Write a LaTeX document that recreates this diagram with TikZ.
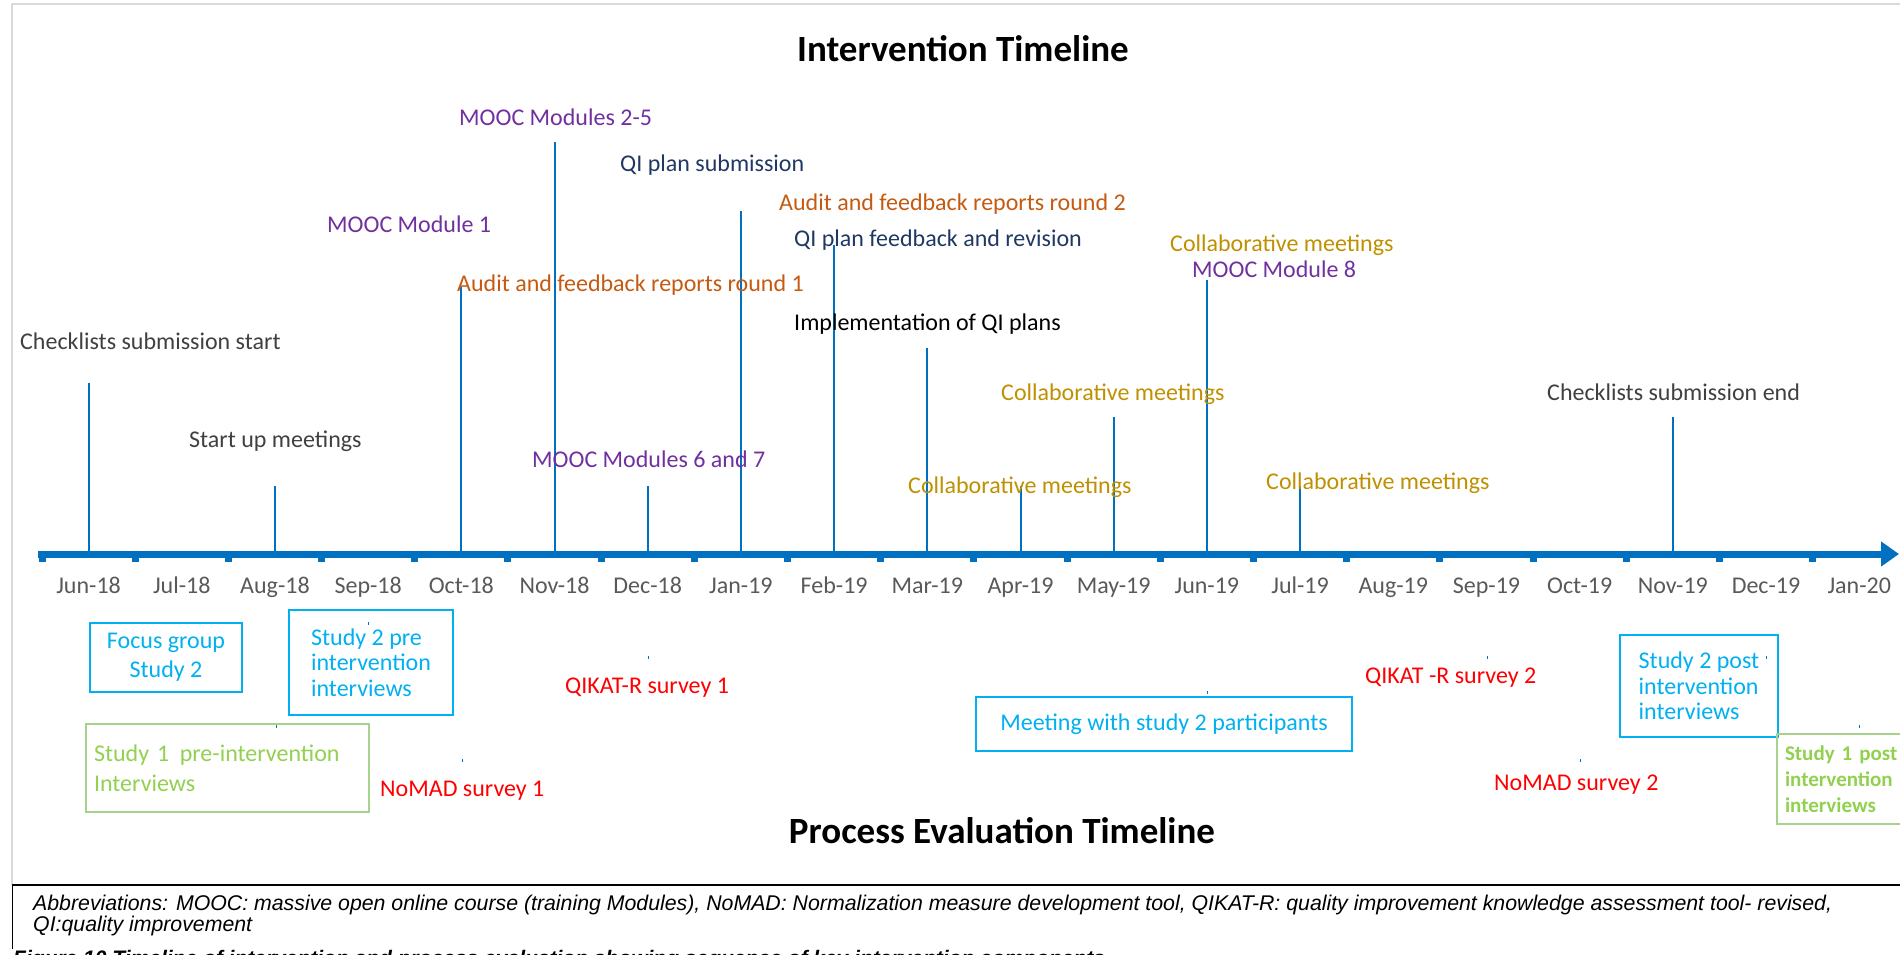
\documentclass[tikz,border=0pt]{standalone}
\usepackage{fontspec}
\setmainfont{Carlito}
\newfontfamily\arialfont{Liberation Sans}
\usetikzlibrary{arrows.meta}
\hyphenpenalty=10000
\exhyphenpenalty=10000

\definecolor{axisblue}{HTML}{0070C0}
\definecolor{moocpurple}{HTML}{7030A0}
\definecolor{qinavy}{HTML}{203864}
\definecolor{auditorange}{HTML}{C55A11}
\definecolor{collabgold}{HTML}{BF9000}
\definecolor{greytext}{HTML}{404040}
\definecolor{monthgrey}{HTML}{595959}
\definecolor{studycyan}{HTML}{00B0F0}
\definecolor{studygreen}{HTML}{92D050}
\definecolor{greenframe}{HTML}{A9D18E}
\definecolor{framegrey}{HTML}{D9D9D9}
\definecolor{eventred}{HTML}{FF0000}

\newcommand\lblfont{\fontsize{24}{29}\selectfont}

\tikzset{
  evline/.style={draw=axisblue, line width=2pt},
  evmark/.style={draw=axisblue, line width=1pt},
  lbl/.style={anchor=base west, inner sep=0pt, font=\lblfont},
  monthlbl/.style={anchor=base, inner sep=0pt, font=\lblfont, text=monthgrey},
  titlelbl/.style={anchor=base, inner sep=0pt, font=\bfseries\fontsize{37}{44}\selectfont},
  cyanbox/.style={draw=studycyan, line width=2pt, text=studycyan, inner ysep=0pt},
  greenbox/.style={draw=greenframe, line width=2pt, text=studygreen, inner ysep=0pt},
  notefont/.style={anchor=base west, inner sep=0pt, font=\arialfont\itshape\fontsize{21.3}{23}\selectfont},
}

\begin{document}
\begin{tikzpicture}[x=1pt, y=-1pt]
\useasboundingbox (0,0) rectangle (1900,954);
\clip (0,0) rectangle (1900,954);

% outer frame and caption box
\draw[framegrey, line width=2.5pt] (12,885) -- (12,4) -- (1910,4);
\draw[black, line width=1.3pt] (12.5,949) -- (12.5,885) -- (1910,885);

% titles
\node[titlelbl] (ttl-int) at (963,61) {Intervention Timeline};
\node[titlelbl] (ttl-proc) at (1002,843) {Process Evaluation Timeline};

% time axis
\coordinate (axstart) at (38,554);
\coordinate (axend) at (1899,554);
\draw[axisblue, line width=7pt, -{Triangle[length=18pt, width=24pt]}] (axstart) -- (axend);

% months: anchor points on the axis, tick marks and labels
\foreach \lab [count=\i from 0] in {Jun-18,Jul-18,Aug-18,Sep-18,Oct-18,Nov-18,Dec-18,Jan-19,Feb-19,Mar-19,Apr-19,May-19,Jun-19,Jul-19,Aug-19,Sep-19,Oct-19,Nov-19,Dec-19,Jan-20}{
  \coordinate (m\i) at ({88.6+93.19*\i},551);
  \fill[axisblue] ({42+93.19*\i-3.5},557) rectangle ++(7,5);
  \node[monthlbl] (ml\i) at ({88.6+93.19*\i},593) {\lab};
}

% tops of the event lines
\coordinate (e-chkstart) at ({88.6+93.19*0},383);
\coordinate (e-startup)  at ({88.6+93.19*2},486);
\coordinate (e-mooc1)    at ({88.6+93.19*4},287);
\coordinate (e-mooc25)   at ({88.6+93.19*5},142);
\coordinate (e-mooc67)   at ({88.6+93.19*6},486);
\coordinate (e-qisub)    at ({88.6+93.19*7},211);
\coordinate (e-audit2)   at ({88.6+93.19*7},313);
\coordinate (e-qifb)     at ({88.6+93.19*8},245);
\coordinate (e-impl)     at ({88.6+93.19*9},348);
\coordinate (e-collab4)  at ({88.6+93.19*10},486);
\coordinate (e-collab5)  at ({88.6+93.19*11},417);
\coordinate (e-mooc8)    at ({88.6+93.19*12},280);
\coordinate (e-collab6)  at ({88.6+93.19*12},348);
\coordinate (e-collab7)  at ({88.6+93.19*13},486);
\coordinate (e-chkend)   at ({88.6+93.19*17},417);

\draw[evline] (e-chkstart) -- (m0);
\draw[evline] (e-startup) -- (m2);
\draw[evline] (e-mooc1) -- (m4);
\draw[evline] (e-mooc25) -- (m5);
\draw[evline] (e-mooc67) -- (m6);
\draw[evline] (e-qisub) -- (m7);
\draw[evline] (e-audit2) -- (m7);
\draw[evline] (e-qifb) -- (m8);
\draw[evline] (e-impl) -- (m9);
\draw[evline] (e-collab4) -- (m10);
\draw[evline] (e-collab5) -- (m11);
\draw[evline] (e-mooc8) -- (m12);
\draw[evline] (e-collab6) -- (m12);
\draw[evline] (e-collab7) -- (m13);
\draw[evline] (e-chkend) -- (m17);

% intervention events
\node[lbl, text=moocpurple]  (l-mooc25)   at (459,125) {MOOC Modules 2-5};
\node[lbl, text=qinavy]      (l-qisub)    at (620,171) {QI plan submission};
\node[lbl, text=auditorange] (l-audit2)   at (779,210) {Audit and feedback reports round 2};
\node[lbl, text=moocpurple]  (l-mooc1)    at (327,232) {MOOC Module 1};
\node[lbl, text=qinavy]      (l-qifb)     at (794,246) {QI plan feedback and revision};
\node[lbl, text=collabgold]  (l-collab6)  at (1170,251) {Collaborative meetings};
\node[lbl, text=moocpurple]  (l-mooc8)    at (1192,277) {MOOC Module 8};
\node[lbl, text=auditorange] (l-audit1)   at (457,291) {Audit and feedback reports round 1};
\node[lbl, text=black]       (l-impl)     at (794,330) {Implementation of QI plans};
\node[lbl, text=greytext]    (l-chkstart) at (20,349) {Checklists submission start};
\node[lbl, text=collabgold]  (l-collab5)  at (1001,400) {Collaborative meetings};
\node[lbl, text=greytext]    (l-chkend)   at (1547,400) {Checklists submission end};
\node[lbl, text=greytext]    (l-startup)  at (189,447) {Start up meetings};
\node[lbl, text=moocpurple]  (l-mooc67)   at (532,467) {MOOC Modules 6 and 7};
\node[lbl, text=collabgold]  (l-collab4)  at (908,493) {Collaborative meetings};
\node[lbl, text=collabgold]  (l-collab7)  at (1266,489) {Collaborative meetings};

% process evaluation events
\node[cyanbox, align=center, inner xsep=0pt, minimum width=152pt, minimum height=69pt,
      font=\fontsize{24}{29}\selectfont] (b-focus) at (166,657.5) {Focus group\\Study 2};
\node[cyanbox, align=left, inner xsep=0pt, minimum width=164pt, minimum height=105pt,
      font=\fontsize{24}{25.5}\selectfont] (b-s2pre) at (371,662.5) {Study 2 pre\\intervention\\interviews};
\node[greenbox, align=left, inner xsep=8pt, text width=266.5pt, minimum height=88pt,
      font=\fontsize{24}{30}\selectfont] (b-s1pre) at (227.25,768) {Study 1\hspace{2.5pt} pre-intervention\\Interviews};
\node[cyanbox, align=center, inner xsep=0pt, minimum width=376pt, minimum height=54pt,
      font=\lblfont] (b-meet) at (1164,724) {Meeting with study 2 participants};
\node[cyanbox, align=left, inner xsep=0pt, minimum width=158pt, minimum height=102pt,
      font=\fontsize{24}{25.3}\selectfont] (b-s2post) at (1699,686) {Study 2 post\\intervention\\interviews};
\node[greenbox, align=left, inner xsep=8pt, text width=167pt, minimum height=90pt,
      font=\bfseries\fontsize{21}{26.3}\selectfont] (b-s1post) at (1868.5,779) {Study 1 post\\intervention\\interviews};

\node[lbl, text=eventred] (l-qikat1) at (565,693) {QIKAT-R survey 1};
\node[lbl, text=eventred] (l-nomad1) at (380,796) {NoMAD survey 1};
\node[lbl, text=eventred] (l-qikat2) at (1365,683) {QIKAT -R survey 2};
\node[lbl, text=eventred] (l-nomad2) at (1494,790) {NoMAD survey 2};

% short event marks in the lower band
\foreach \x/\y in {368/622,276/725,462/759,648/656,1207.6/691,1487/656,1580/759,1766/656,1859/725}
  \draw[evmark] (\x,\y) -- (\x,\y+3);

% abbreviations and caption
\node[notefont] (abbr1) at (33,910) {Abbreviations: MOOC: massive open online course (training Modules), NoMAD: Normalization measure development tool, QIKAT-R: quality improvement knowledge assessment tool- revised,};
\node[notefont] (abbr2) at (33,931.7) {QI:quality improvement};
\node[anchor=base west, inner sep=0pt, font=\arialfont\bfseries\itshape\fontsize{21}{24}\selectfont] (caption) at (13,965) {Figure 10 Timeline of intervention and process evaluation showing sequence of key intervention components};
\end{tikzpicture}
\end{document}
